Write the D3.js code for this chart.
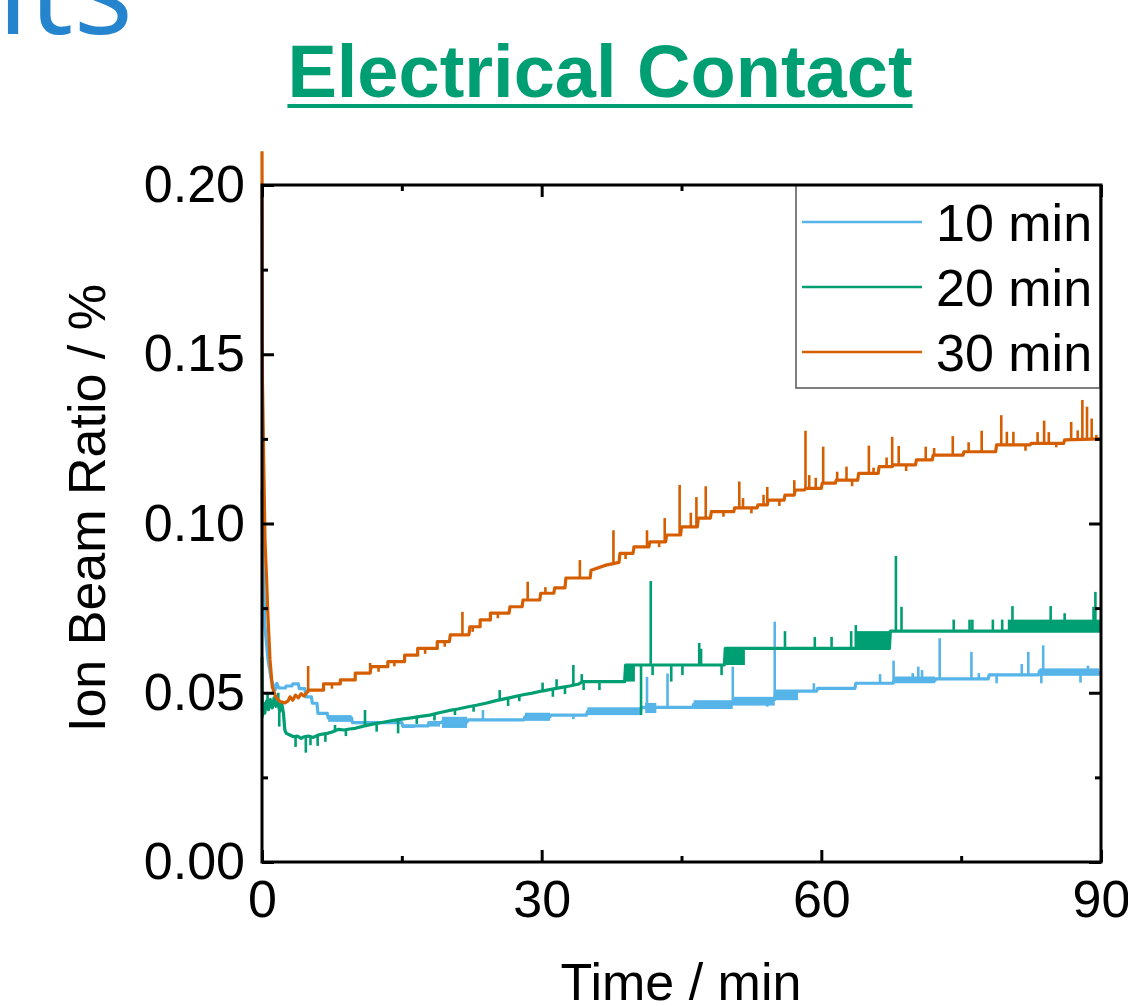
<!DOCTYPE html>
<html>
<head>
<meta charset="utf-8">
<script src="https://cdn.jsdelivr.net/npm/d3@7"></script>
<style>
  html, body { margin: 0; padding: 0; background: #fff; overflow: hidden; }
  svg { display: block; font-family: "Liberation Sans", Arial, sans-serif; }
</style>
</head>
<body>
<svg id="chart" width="1128" height="1006"></svg>
<script>
var seriesNames = ["10 min", "20 min", "30 min"],
    seriesColors = ["#56B4E9", "#009E73", "#D55E00"];

var xTicks = [0, 30, 60, 90],
    xMinorTicks = [15, 45, 75],
    yTicks = [0, 0.05, 0.10, 0.15, 0.20],
    yMinorTicks = [0.025, 0.075, 0.125, 0.175];

// [time, ratio]
var line10 = [[0,0.110],[0.1,0.089],[0.32,0.0695],[0.65,0.0597],[1.0,0.0538],[1.4,0.0508],[1.6,0.0528],[1.8,0.0514],
  [2.5,0.0514],[2.6,0.052],[3.2,0.052],[3.3,0.0526],[3.9,0.0526],[4.0,0.0512],[4.6,0.0512],[4.7,0.0488],[5.3,0.0488],
  [5.4,0.0469],[5.9,0.0469],[6.0,0.0439],[7.0,0.0439],[7.1,0.0426],[9.6,0.0426],[9.7,0.0412],[15.0,0.0412],[15.1,0.0402],
  [17.8,0.0402],[17.9,0.0412],[19.2,0.0412],[19.3,0.0414],[22.0,0.0414],[22.1,0.042],[28.1,0.042],[28.2,0.0429],
  [30.9,0.0429],[31.0,0.0434],[34.8,0.0434],[34.9,0.0444],[40.6,0.0444],[40.7,0.0457],[46.2,0.0457],[46.3,0.0466],
  [50.5,0.0466],[50.6,0.0480],[55.0,0.0480],[55.1,0.0505],[59.5,0.0505],[59.6,0.0513],[63.6,0.0513],[63.7,0.0528],
  [67.7,0.0528],[67.8,0.0536],[72.2,0.0536],[72.3,0.0541],[77.9,0.0541],[78.0,0.0553],[83.3,0.0553],[83.4,0.0564],
  [89.8,0.0560],[90,0.0552]];
var line20 = [[0,0.0606],[0.05,0.043],[0.15,0.047],[0.3,0.044],[0.5,0.0475],[0.7,0.045],[0.9,0.048],[1.1,0.0455],
  [1.3,0.0485],[1.5,0.046],[1.7,0.0475],[1.9,0.0445],[2.1,0.047],[2.3,0.044],[2.45,0.039],[2.6,0.038],[3.0,0.0375],
  [3.4,0.037],[3.8,0.0372],[4.2,0.0365],[4.5,0.037],[5.0,0.0372],[5.5,0.0368],[6.0,0.0375],[6.5,0.0378],[7.0,0.038],
  [7.6,0.0385],[8.2,0.0392],[8.8,0.039],[9.4,0.0393],[10.0,0.0395],[11.0,0.0402],[12.0,0.0408],[13.0,0.0413],
  [14.0,0.0418],[15.0,0.0422],[16.0,0.0426],[17.0,0.043],[18.0,0.0434],[19.0,0.0441],[20.0,0.0447],[21.0,0.0452],
  [22.0,0.0458],[23.0,0.0463],[24.0,0.0469],[25.0,0.0476],[26.0,0.0482],[27.0,0.0488],[28.0,0.0494],[29.0,0.0499],
  [30.0,0.0505],[31.0,0.051],[32.0,0.0515],[33.0,0.052],[34.0,0.0526],[34.4,0.0533],[38.9,0.0533],[39.0,0.0582],
  [49.6,0.0582],[49.7,0.0631],[67.3,0.0631],[67.4,0.0682],[90,0.0682]];
var line30 = [[0,0.210],[0.05,0.142],[0.32,0.095],[0.5,0.0833],[0.61,0.0744],[0.86,0.0597],[1.1,0.0518],[1.47,0.0488],
  [1.93,0.0474],[2.47,0.047],[2.8,0.0476],[3.0,0.0488],[3.3,0.0478],[3.6,0.0493],[3.9,0.0485],[4.2,0.0497],[4.5,0.049],
  [4.8,0.05],[5.0,0.0508],[6.6,0.0508],[6.6,0.0526],[8.4,0.0526],[8.4,0.0538],[10.0,0.0538],[10.0,0.0558],[11.6,0.0558],
  [11.7,0.0577],[13.5,0.0577],[13.5,0.0592],[15.3,0.0592],[15.3,0.0611],[16.7,0.0611],[16.7,0.0631],[18.8,0.0631],
  [18.8,0.0651],[20.1,0.0651],[20.2,0.0671],[22.2,0.0671],[22.3,0.0695],[23.4,0.0695],[23.4,0.0715],[24.5,0.0715],
  [24.5,0.0735],[26.5,0.0735],[26.6,0.0754],[27.9,0.0754],[28.0,0.0774],[29.8,0.0774],[29.9,0.0794],[31.3,0.0794],
  [31.4,0.0810],[32.5,0.0810],[32.6,0.0839],[35.2,0.0839],[35.3,0.0862],[36.9,0.0877],[38.3,0.0885],[38.4,0.0912],
  [39.8,0.0912],[39.9,0.0931],[41.5,0.0931],[41.6,0.0946],[43.3,0.0946],[43.4,0.0966],[44.9,0.0966],[45.0,0.099],
  [46.7,0.099],[46.8,0.1016],[48.1,0.1016],[48.2,0.1035],[50.6,0.1035],[50.7,0.1046],[53.1,0.1046],[53.2,0.1055],
  [54.2,0.1055],[54.3,0.1069],[56.0,0.1069],[56.1,0.1084],[57.1,0.1084],[57.2,0.1099],[58.2,0.1099],[58.3,0.1104],
  [60.0,0.1104],[60.1,0.1119],[61.5,0.1119],[61.6,0.1128],[63.9,0.1128],[64.0,0.1148],[66.1,0.1148],[66.2,0.1168],
  [67.6,0.1168],[67.7,0.1173],[70.1,0.1173],[70.2,0.1188],[71.9,0.1188],[72.0,0.1202],[75.2,0.1202],[75.3,0.1212],
  [78.7,0.1212],[78.8,0.1232],[82.4,0.1232],[82.5,0.1237],[86.0,0.1237],[86.1,0.1247],[90,0.1250]];

// dense flicker between two levels: [t0, t1, low, high]
var bands10 = [[7.1,9.6,0.0414,0.0434],[15.0,16.4,0.0396,0.0405],[17.8,19.1,0.040,0.0412],[19.3,22.0,0.0396,0.0429],
  [28.2,30.9,0.0417,0.0441],[34.9,40.6,0.0434,0.0457],[41.1,42.3,0.044,0.047],[46.3,50.5,0.0452,0.0478],
  [50.6,55.0,0.0462,0.0488],[55.1,57.5,0.0478,0.0508],[67.8,72.2,0.0528,0.0548],[83.4,89.8,0.0550,0.0572]];
var bands20 = [[38.9,40.0,0.0533,0.0582],[49.7,51.8,0.0582,0.0631],[63.6,67.4,0.0631,0.0682],[80.0,90,0.0682,0.0716]];
var bands30 = [];

// single-sample spikes: [t, from, to]
var spikes10 = [[23.7,0.042,0.0449],[33.4,0.0434,0.0422],[41.3,0.0457,0.0547],[43.5,0.0457,0.0557],[50.5,0.0466,0.0577],
  [54.2,0.048,0.0459],[55.0,0.048,0.071],[59.2,0.0505,0.0528],[66.3,0.0528,0.0555],[67.75,0.0528,0.0595],
  [69.8,0.0536,0.0558],[70.4,0.0536,0.0577],[70.8,0.0536,0.0567],[72.7,0.0541,0.0661],[76.1,0.0541,0.0621],
  [76.9,0.0541,0.0558],[78.8,0.0553,0.0528],[81.5,0.0553,0.0585],[82.2,0.0553,0.0621],[83.6,0.0564,0.0528],
  [83.8,0.0564,0.064],[87.8,0.0564,0.053],[88.6,0.0564,0.058]];
var spikes20 = [[0.6,0.046,0.050],[1.75,0.0475,0.050],[1.85,0.046,0.040],[3.6,0.037,0.034],[4.7,0.0368,0.0323],
  [5.2,0.0372,0.0345],[5.97,0.0375,0.0343],[6.8,0.0379,0.0355],[7.83,0.039,0.0405],[9.0,0.039,0.0372],
  [11.05,0.0405,0.0449],[12.3,0.041,0.0385],[14.6,0.042,0.038],[16.6,0.0428,0.0408],[18.5,0.0437,0.0418],
  [20.7,0.045,0.0434],[22.7,0.046,0.0444],[25.5,0.0479,0.0508],[26.4,0.0485,0.0461],[27.6,0.049,0.0475],
  [30.1,0.0505,0.053],[31.2,0.051,0.0488],[31.6,0.0512,0.054],[32.5,0.0518,0.0496],[33.4,0.0523,0.0582],
  [34.3,0.053,0.0555],[34.5,0.0533,0.0508],[36.2,0.0533,0.0508],[40.66,0.0582,0.0434],[41.7,0.0582,0.083],
  [41.9,0.0582,0.0552],[43.9,0.0582,0.0533],[45.1,0.0582,0.0552],[46.9,0.0582,0.0647],[47.1,0.0582,0.063],
  [49.3,0.0582,0.0552],[56.1,0.0631,0.0682],[59.3,0.0631,0.0665],[61.1,0.0631,0.0665],[63.2,0.0631,0.0682],
  [63.7,0.0631,0.070],[68.0,0.0682,0.0904],[68.6,0.0682,0.0754],[74.2,0.0682,0.0716],[75.9,0.0682,0.0716],
  [76.2,0.0682,0.0716],[78.4,0.0682,0.0716],[79.4,0.0682,0.0716],[80.5,0.0682,0.0756],[84.6,0.0682,0.0756],
  [86.1,0.0682,0.0735],[89.2,0.0682,0.0754],[89.4,0.0682,0.0798]];
var spikes30 = [[4.95,0.050,0.0579],[7.5,0.0526,0.0512],[11.6,0.0558,0.0588],[12.5,0.0577,0.0562],[14.2,0.0592,0.0578],
  [17.5,0.0631,0.0615],[19.6,0.0651,0.0636],[21.5,0.0671,0.0739],[22.6,0.0695,0.068],[25.3,0.0735,0.072],
  [28.5,0.0774,0.0828],[30.4,0.0794,0.0812],[34.1,0.0839,0.0892],[37.7,0.0877,0.098],[39.0,0.0912,0.0895],
  [41.3,0.0931,0.098],[42.6,0.0946,0.093],[43.2,0.0946,0.1016],[44.8,0.0966,0.1114],[46.0,0.099,0.1032],
  [46.6,0.099,0.1078],[47.6,0.1016,0.111],[49.5,0.1035,0.102],[51.2,0.1046,0.1124],[51.6,0.1046,0.1075],
  [52.5,0.1046,0.103],[53.8,0.1055,0.1085],[54.2,0.1055,0.1108],[55.5,0.1069,0.1052],[57.1,0.1084,0.1128],
  [58.3,0.1099,0.1274],[58.7,0.1104,0.1143],[59.4,0.1104,0.1135],[60.2,0.1119,0.1227],[61.7,0.1128,0.1153],
  [62.7,0.1128,0.1168],[63.3,0.1128,0.111],[65.1,0.1148,0.123],[65.6,0.1148,0.1165],[67.0,0.1168,0.1195],
  [67.6,0.1168,0.1256],[68.3,0.1173,0.1229],[69.1,0.1173,0.1155],[71.2,0.1188,0.1227],[72.1,0.1202,0.1223],
  [74.1,0.1202,0.1258],[75.8,0.1212,0.124],[77.2,0.1212,0.1274],[79.3,0.1232,0.132],[79.9,0.1232,0.1271],
  [80.6,0.1232,0.1271],[81.9,0.1232,0.1215],[83.2,0.1237,0.127],[83.9,0.1237,0.1304],[84.4,0.1237,0.127],
  [85.2,0.1237,0.1225],[86.8,0.1247,0.130],[87.5,0.1247,0.1275],[88.0,0.1247,0.1365],[88.5,0.1247,0.1345],
  [89.0,0.1247,0.131],[89.5,0.1247,0.1262]];

var series = [
  { name: seriesNames[0], color: seriesColors[0], line: line10, bands: bands10, spikes: spikes10 },
  { name: seriesNames[1], color: seriesColors[1], line: line20, bands: bands20, spikes: spikes20 },
  { name: seriesNames[2], color: seriesColors[2], line: line30, bands: bands30, spikes: spikes30 }
];

drawChart(d3.select("#chart"));

function drawChart(svg) {
  var x0 = 262, x1 = 1101, y0 = 862, y1 = 185;

  var x = d3.scaleLinear().domain([0, 90]).range([x0, x1]),
      y = d3.scaleLinear().domain([0, 0.2]).range([y0, y1]);

  // heading fragment from the slide behind the chart
  svg.append("text")
      .attr("x", 133).attr("y", 34)
      .attr("text-anchor", "end")
      .style("font-family", "'Open Sans', sans-serif")
      .style("font-size", "125px")
      .attr("fill", "#2484CE")
      .text("Results");

  var title = svg.append("text")
      .attr("x", 600).attr("y", 97)
      .attr("text-anchor", "middle")
      .style("font-size", "74px")
      .style("font-weight", "bold")
      .attr("fill", "#009E73")
      .text("Electrical Contact");
  var tb = title.node().getBBox();
  svg.append("rect")
      .attr("x", tb.x).attr("y", 104)
      .attr("width", tb.width).attr("height", 4)
      .attr("fill", "#009E73");

  var plot = svg.append("g").attr("class", "plot");

  var line = d3.line()
      .x(function(d) { return x(d[0]); })
      .y(function(d) { return y(d[1]); });

  series.forEach(function(s) {
    var g = plot.append("g").attr("class", "series");
    g.selectAll("rect")
        .data(s.bands)
      .enter().append("rect")
        .attr("x", function(d) { return x(d[0]); })
        .attr("y", function(d) { return y(d[3]); })
        .attr("width", function(d) { return x(d[1]) - x(d[0]); })
        .attr("height", function(d) { return y(d[2]) - y(d[3]); })
        .attr("fill", s.color);
    g.append("path")
        .datum(s.line)
        .attr("d", line)
        .attr("fill", "none")
        .attr("stroke", s.color)
        .attr("stroke-width", 3.2)
        .attr("stroke-linejoin", "round");
    g.selectAll("line")
        .data(s.spikes)
      .enter().append("line")
        .attr("x1", function(d) { return x(d[0]); })
        .attr("x2", function(d) { return x(d[0]); })
        .attr("y1", function(d) { return y(d[1]); })
        .attr("y2", function(d) { return y(d[2]); })
        .attr("stroke", s.color)
        .attr("stroke-width", 2.6);
  });

  // axes, ticks pointing in
  function styleAxis(g) {
    g.select(".domain").remove();
    g.selectAll(".tick line").attr("stroke", "#000").attr("stroke-width", 3);
    g.selectAll(".tick text").style("font-size", "52px").attr("fill", "#000")
      .style("font-family", "'Liberation Sans', Arial, sans-serif");
  }

  svg.append("g").attr("transform", "translate(0," + y0 + ")")
      .call(d3.axisBottom(x).tickValues(xTicks).tickSize(-12).tickPadding(18).tickFormat(d3.format("d")))
      .call(styleAxis);
  svg.append("g").attr("transform", "translate(0," + y0 + ")")
      .call(d3.axisBottom(x).tickValues(xMinorTicks).tickSize(-6).tickFormat(""))
      .call(styleAxis);
  svg.append("g").attr("transform", "translate(0," + y1 + ")")
      .call(d3.axisTop(x).tickValues(xTicks).tickSize(-12).tickFormat(""))
      .call(styleAxis);
  svg.append("g").attr("transform", "translate(0," + y1 + ")")
      .call(d3.axisTop(x).tickValues(xMinorTicks).tickSize(-6).tickFormat(""))
      .call(styleAxis);
  svg.append("g").attr("transform", "translate(" + x0 + ",0)")
      .call(d3.axisLeft(y).tickValues(yTicks).tickSize(-12).tickPadding(17).tickFormat(d3.format(".2f")))
      .call(styleAxis);
  svg.append("g").attr("transform", "translate(" + x0 + ",0)")
      .call(d3.axisLeft(y).tickValues(yMinorTicks).tickSize(-6).tickFormat(""))
      .call(styleAxis);
  svg.append("g").attr("transform", "translate(" + x1 + ",0)")
      .call(d3.axisRight(y).tickValues(yTicks).tickSize(-12).tickFormat(""))
      .call(styleAxis);
  svg.append("g").attr("transform", "translate(" + x1 + ",0)")
      .call(d3.axisRight(y).tickValues(yMinorTicks).tickSize(-6).tickFormat(""))
      .call(styleAxis);

  // legend sits over the inner ticks
  var legend = svg.append("g").attr("class", "legend");
  legend.append("rect")
      .attr("x", 796).attr("y", 185)
      .attr("width", 304).attr("height", 203)
      .attr("fill", "#fff")
      .attr("stroke", "#555")
      .attr("stroke-width", 1.5);
  var items = legend.selectAll("g.item")
      .data(series)
    .enter().append("g")
      .attr("class", "item")
      .attr("transform", function(d, i) { return "translate(0," + (222 + i * 65) + ")"; });
  items.append("line")
      .attr("x1", 802).attr("x2", 922)
      .attr("stroke", function(d) { return d.color; })
      .attr("stroke-width", 2.5);
  items.append("text")
      .attr("x", 936).attr("y", 19)
      .style("font-size", "52px")
      .attr("fill", "#000")
      .text(function(d) { return d.name; });

  svg.append("rect")
      .attr("x", x0).attr("y", y1)
      .attr("width", x1 - x0).attr("height", y0 - y1)
      .attr("fill", "none")
      .attr("stroke", "#000")
      .attr("stroke-width", 3);

  svg.append("text")
      .attr("transform", "translate(105,508) rotate(-90)")
      .attr("text-anchor", "middle")
      .style("font-size", "52px")
      .text("Ion Beam Ratio / %");

  svg.append("text")
      .attr("x", 681).attr("y", 1000)
      .attr("text-anchor", "middle")
      .style("font-size", "52px")
      .text("Time / min");
}
</script>
</body>
</html>
